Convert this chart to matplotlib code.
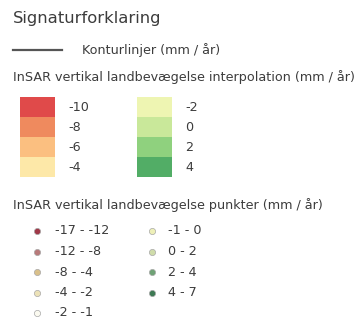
import matplotlib
matplotlib.use("Agg")
import matplotlib.pyplot as plt
from matplotlib.patches import Rectangle

title = "Signaturforklaring"
contour_label = "Konturlinjer (mm / år)"
interp_title = "InSAR vertikal landbevægelse interpolation (mm / år)"
points_title = "InSAR vertikal landbevægelse punkter (mm / år)"

interp_labels_left = ["-10", "-8", "-6", "-4"]
interp_colors_left = ["#e04a4a", "#ef8a5e", "#fbbf80", "#fde8a8"]
interp_labels_right = ["-2", "0", "2", "4"]
interp_colors_right = ["#eef5b2", "#c9e89a", "#8fd17e", "#52ad66"]

point_labels_left = ["-17 - -12", "-12 - -8", "-8 - -4", "-4 - -2", "-2 - -1"]
point_colors_left = ["#a03848", "#b87a7a", "#d9c08a", "#ece2b8", "#fbfaf0"]
point_labels_right = ["-1 - 0", "0 - 2", "2 - 4", "4 - 7"]
point_colors_right = ["#eef0b8", "#cfdcaa", "#6fa276", "#3e7a54"]

W, H = 362, 318
fig = plt.figure(figsize=(W / 100, H / 100), dpi=100)
ax = fig.add_axes([0, 0, 1, 1])
ax.set_xlim(0, W)
ax.set_ylim(H, 0)
ax.axis("off")

tc = "#3c3c3c"
fs = 9.2
ax.text(13, 18, title, fontsize=11.8, color=tc, va="center", ha="left")
ax.plot([13, 62], [50, 50], color="#555555", lw=1.6)
ax.text(82, 50, contour_label, fontsize=fs, color=tc, va="center", ha="left")
ax.text(13, 77, interp_title, fontsize=fs, color=tc, va="center", ha="left")

box_top, box_h = 97, 20
for col_x, lab_x, labels, colors in [
    (20, 68, interp_labels_left, interp_colors_left),
    (137, 185, interp_labels_right, interp_colors_right),
]:
    for i, (lab, c) in enumerate(zip(labels, colors)):
        y0 = box_top + i * box_h
        ax.add_patch(Rectangle((col_x, y0), 35, box_h, facecolor=c, edgecolor="none"))
        ax.text(lab_x, y0 + box_h / 2 + 0.5, lab, fontsize=fs, color=tc, va="center", ha="left")

ax.text(13, 205, points_title, fontsize=fs, color=tc, va="center", ha="left")

row_top, row_h = 231, 20.5
for mx, lx, labels, colors in [
    (37, 55, point_labels_left, point_colors_left),
    (152, 168, point_labels_right, point_colors_right),
]:
    for i, (lab, c) in enumerate(zip(labels, colors)):
        y = row_top + i * row_h
        ax.scatter([mx], [y], s=20, c=c, edgecolors="#a8a8a8", linewidths=0.5, zorder=3)
        ax.text(lx, y, lab, fontsize=fs, color=tc, va="center", ha="left")

fig.savefig("out.png", dpi=100)
